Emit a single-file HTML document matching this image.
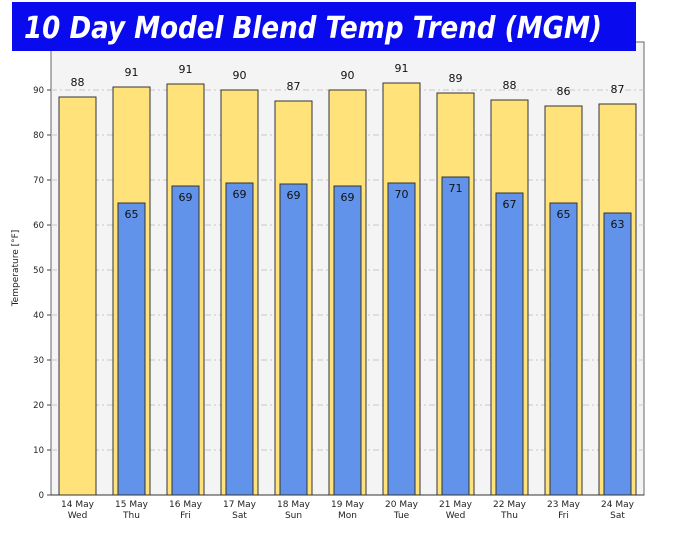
<!DOCTYPE html>
<html><head><meta charset="utf-8"><style>
body{margin:0;background:#fff;width:676px;height:538px;overflow:hidden}
svg{display:block;font-family:"DejaVu Sans","Liberation Sans",sans-serif}
</style></head><body>
<svg width="676" height="538" viewBox="0 0 676 538">
<rect x="51" y="42" width="593" height="453" fill="#f4f4f4" stroke="#666" stroke-width="1"/>
<g stroke="#c8c8c8" stroke-dasharray="6,3,2,3" stroke-width="1">
<line x1="51" x2="644" y1="450" y2="450"/><line x1="51" x2="644" y1="405" y2="405"/>
<line x1="51" x2="644" y1="360" y2="360"/><line x1="51" x2="644" y1="315" y2="315"/>
<line x1="51" x2="644" y1="270" y2="270"/><line x1="51" x2="644" y1="225" y2="225"/>
<line x1="51" x2="644" y1="180" y2="180"/><line x1="51" x2="644" y1="135" y2="135"/>
<line x1="51" x2="644" y1="90" y2="90"/>
</g>
<g font-size="8.5" fill="#222" text-anchor="end">
<text x="44" y="498">0</text><text x="44" y="453">10</text><text x="44" y="408">20</text>
<text x="44" y="363">30</text><text x="44" y="318">40</text><text x="44" y="273">50</text>
<text x="44" y="228">60</text><text x="44" y="183">70</text><text x="44" y="138">80</text><text x="44" y="93">90</text>
</g>
<g stroke="#444"><line x1="47" x2="51" y1="495" y2="495"/><line x1="47" x2="51" y1="450" y2="450"/><line x1="47" x2="51" y1="405" y2="405"/><line x1="47" x2="51" y1="360" y2="360"/><line x1="47" x2="51" y1="315" y2="315"/><line x1="47" x2="51" y1="270" y2="270"/><line x1="47" x2="51" y1="225" y2="225"/><line x1="47" x2="51" y1="180" y2="180"/><line x1="47" x2="51" y1="135" y2="135"/><line x1="47" x2="51" y1="90" y2="90"/></g>
<text transform="translate(18,268) rotate(-90)" font-size="9" text-anchor="middle" fill="#222">Temperature [°F]</text>
<g stroke="#333" stroke-width="1">
<rect x="59" y="97" width="37" height="398" fill="#ffe37a"/>
<rect x="113" y="87" width="37" height="408" fill="#ffe37a"/>
<rect x="167" y="84" width="37" height="411" fill="#ffe37a"/>
<rect x="221" y="90" width="37" height="405" fill="#ffe37a"/>
<rect x="275" y="101" width="37" height="394" fill="#ffe37a"/>
<rect x="329" y="90" width="37" height="405" fill="#ffe37a"/>
<rect x="383" y="83" width="37" height="412" fill="#ffe37a"/>
<rect x="437" y="93" width="37" height="402" fill="#ffe37a"/>
<rect x="491" y="100" width="37" height="395" fill="#ffe37a"/>
<rect x="545" y="106" width="37" height="389" fill="#ffe37a"/>
<rect x="599" y="104" width="37" height="391" fill="#ffe37a"/>
<rect x="118" y="203" width="27" height="292" fill="#6293ea"/>
<rect x="172" y="186" width="27" height="309" fill="#6293ea"/>
<rect x="226" y="183" width="27" height="312" fill="#6293ea"/>
<rect x="280" y="184" width="27" height="311" fill="#6293ea"/>
<rect x="334" y="186" width="27" height="309" fill="#6293ea"/>
<rect x="388" y="183" width="27" height="312" fill="#6293ea"/>
<rect x="442" y="177" width="27" height="318" fill="#6293ea"/>
<rect x="496" y="193" width="27" height="302" fill="#6293ea"/>
<rect x="550" y="203" width="27" height="292" fill="#6293ea"/>
<rect x="604" y="213" width="27" height="282" fill="#6293ea"/>
</g>
<line x1="51" x2="644" y1="495" y2="495" stroke="#333"/>
<g font-size="11" fill="#111" text-anchor="middle">
<text x="77.5" y="86">88</text><text x="131.5" y="76">91</text><text x="185.5" y="73">91</text>
<text x="239.5" y="79">90</text><text x="293.5" y="90">87</text><text x="347.5" y="79">90</text>
<text x="401.5" y="72">91</text><text x="455.5" y="82">89</text><text x="509.5" y="89">88</text>
<text x="563.5" y="95">86</text><text x="617.5" y="93">87</text>
<text x="131.5" y="218">65</text><text x="185.5" y="201">69</text><text x="239.5" y="198">69</text>
<text x="293.5" y="199">69</text><text x="347.5" y="201">69</text><text x="401.5" y="198">70</text>
<text x="455.5" y="192">71</text><text x="509.5" y="208">67</text><text x="563.5" y="218">65</text>
<text x="617.5" y="228">63</text>
</g>
<g font-size="9" fill="#222" text-anchor="middle">
<text x="77.5" y="507">14 May</text><text x="77.5" y="518">Wed</text>
<text x="131.5" y="507">15 May</text><text x="131.5" y="518">Thu</text>
<text x="185.5" y="507">16 May</text><text x="185.5" y="518">Fri</text>
<text x="239.5" y="507">17 May</text><text x="239.5" y="518">Sat</text>
<text x="293.5" y="507">18 May</text><text x="293.5" y="518">Sun</text>
<text x="347.5" y="507">19 May</text><text x="347.5" y="518">Mon</text>
<text x="401.5" y="507">20 May</text><text x="401.5" y="518">Tue</text>
<text x="455.5" y="507">21 May</text><text x="455.5" y="518">Wed</text>
<text x="509.5" y="507">22 May</text><text x="509.5" y="518">Thu</text>
<text x="563.5" y="507">23 May</text><text x="563.5" y="518">Fri</text>
<text x="617.5" y="507">24 May</text><text x="617.5" y="518">Sat</text>
</g>
<rect x="12" y="2" width="624" height="49" fill="#0a0aee"/>
<text x="24" y="38" font-family="'DejaVu Sans',sans-serif" font-size="30" font-weight="bold" font-style="italic" fill="#fff" textLength="578" lengthAdjust="spacingAndGlyphs">10 Day Model Blend Temp Trend (MGM)</text>
</svg>
</body></html>
